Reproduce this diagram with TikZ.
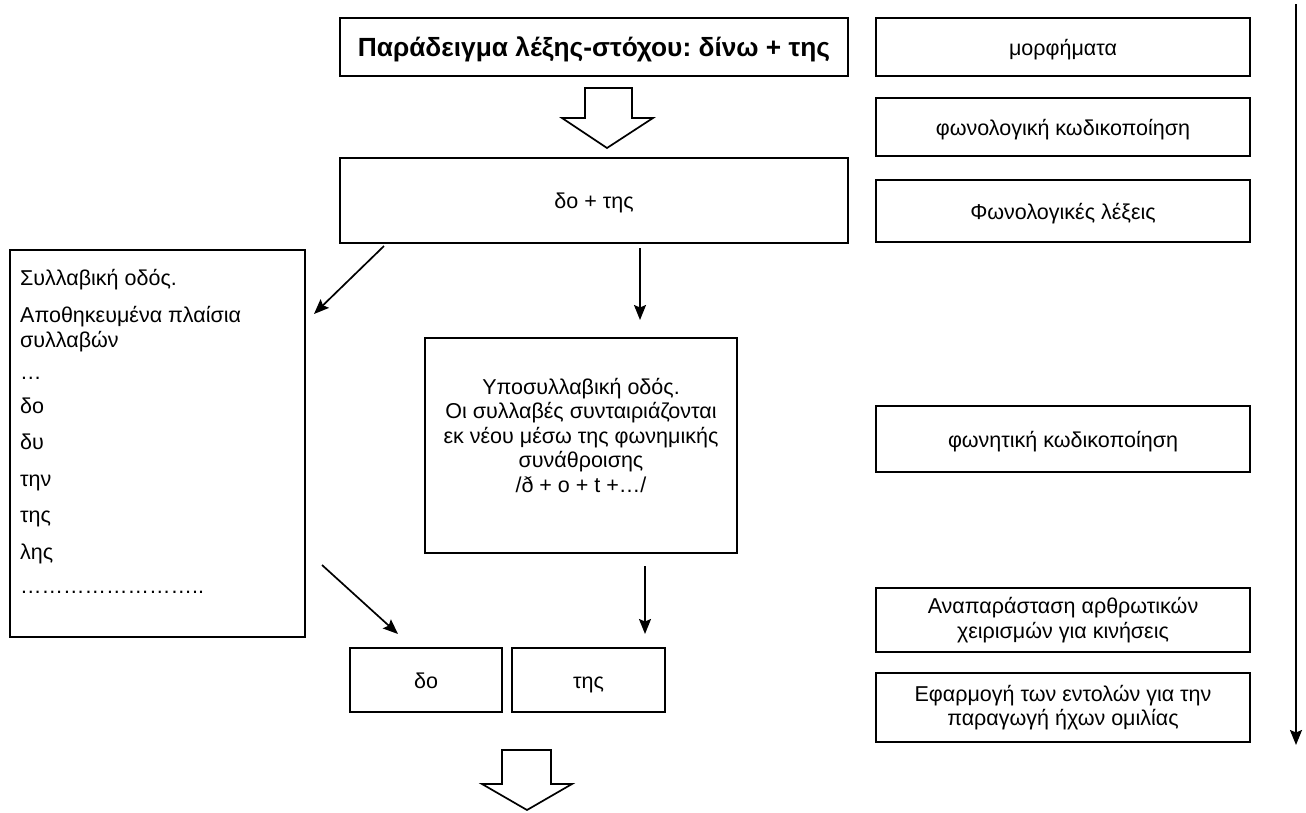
\documentclass[tikz,border=0pt]{standalone}
\usepackage{fontspec}
\setmainfont{Liberation Sans}
\usetikzlibrary{arrows.meta,calc}
\frenchspacing
\begin{document}
\begin{tikzpicture}[x=1pt,y=-1pt,
  box/.style={draw, line width=1.7pt, inner sep=0pt, outer sep=0pt, align=center,
    font=\fontsize{21.5}{24.5}\selectfont},
  one/.style={text height=18pt, text depth=2pt},
  txt/.style={inner sep=0pt, align=center, font=\fontsize{21.5}{24.5}\selectfont},
  arr/.style={line width=1.7pt, -{Stealth[length=15pt,width=12pt,inset=2.5pt]}},
  hollow/.style={draw, line width=1.7pt, fill=white, line join=miter}]
\useasboundingbox (0,0) rectangle (1306,812);

% main column
\node[box, text height=20pt, text depth=2pt, minimum width=508pt, minimum height=58pt, font=\fontsize{26.3}{28}\selectfont\bfseries] (top) at (594,47)
  {Παράδειγμα λέξης-στόχου: δίνω + της};
\node[box, one, minimum width=508pt, minimum height=85pt] (dot) at (594,200.5) {δο + της};
\node[box, minimum width=295pt, minimum height=387pt] (left) at (157.5,443.5) {};
\node[anchor=north west, inner sep=0pt, align=left, font=\fontsize{21.5}{25}\selectfont] (lefttext) at (20,269)
  {Συλλαβική οδός.\\[12pt]
   Αποθηκευμένα πλαίσια\\
   συλλαβών\\[7pt]
   …\\[9pt]
   δο\\[11.5pt]
   δυ\\[11.5pt]
   την\\[11.5pt]
   της\\[11.5pt]
   λης\\[9pt]
   ……………………..};
\node[box, minimum width=312pt, minimum height=215pt] (mid) at (581,445.5) {};
\node[txt] (midtext) at (581,435)
  {Υποσυλλαβική οδός.\\ Οι συλλαβές συνταιριάζονται\\ εκ νέου μέσω της φωνημικής\\ συνάθροισης\\ /ð + o + t +…/};
\node[box, one, minimum width=152pt, minimum height=64pt] (do) at (426,680) {δο};
\node[box, one, minimum width=153pt, minimum height=64pt] (tis) at (588.5,680) {της};

% right column
\node[box, one, minimum width=374pt, minimum height=58pt] (b1) at (1063,47) {μορφήματα};
\node[box, one, minimum width=374pt, minimum height=58pt] (b2) at (1063,127) {φωνολογική κωδικοποίηση};
\node[box, one, minimum width=374pt, minimum height=62pt] (b3) at (1063,211) {Φωνολογικές λέξεις};
\node[box, one, minimum width=374pt, minimum height=66pt] (b4) at (1063,439) {φωνητική κωδικοποίηση};
\node[box, minimum width=374pt, minimum height=64pt] (b5) at (1063,620)
  {Αναπαράσταση αρθρωτικών\\ χειρισμών για κινήσεις};
\node[box, minimum width=374pt, minimum height=69pt] (b6) at (1063,707.5)
  {Εφαρμογή των εντολών για την\\ παραγωγή ήχων ομιλίας};

% hollow arrows
\draw[hollow] (585,88) -- (632,88) -- (632,118) -- (653,118) -- (607,148) -- (562,118) -- (585,118) -- cycle;
\draw[hollow] (502,750) -- (551,750) -- (551,784) -- (572,784) -- (527,810) -- (482,784) -- (502,784) -- cycle;

% connectors
\coordinate (a1s) at ($(dot.south west)+(44,3)$);
\coordinate (a1e) at ($(left.north east)+(9,64)$);
\draw[arr] (a1s) -- (a1e);
\coordinate (a2s) at ($(dot.south west)+(300,5)$);
\coordinate (a2e) at ($(mid.north west)+(215,-18)$);
\draw[arr] (a2s) -- (a2e);
\coordinate (a3s) at ($(mid.south west)+(220,13)$);
\coordinate (a3e) at ($(tis.north west)+(133,-14)$);
\draw[arr] (a3s) -- (a3e);
\coordinate (a4s) at ($(left.south east)+(17,-72)$);
\coordinate (a4e) at ($(do.north west)+(48,-14)$);
\draw[arr] (a4s) -- (a4e);
\coordinate (rs) at (1296,4);
\coordinate (re) at (1296,745);
\draw[arr] (rs) -- (re);
\end{tikzpicture}
\end{document}
